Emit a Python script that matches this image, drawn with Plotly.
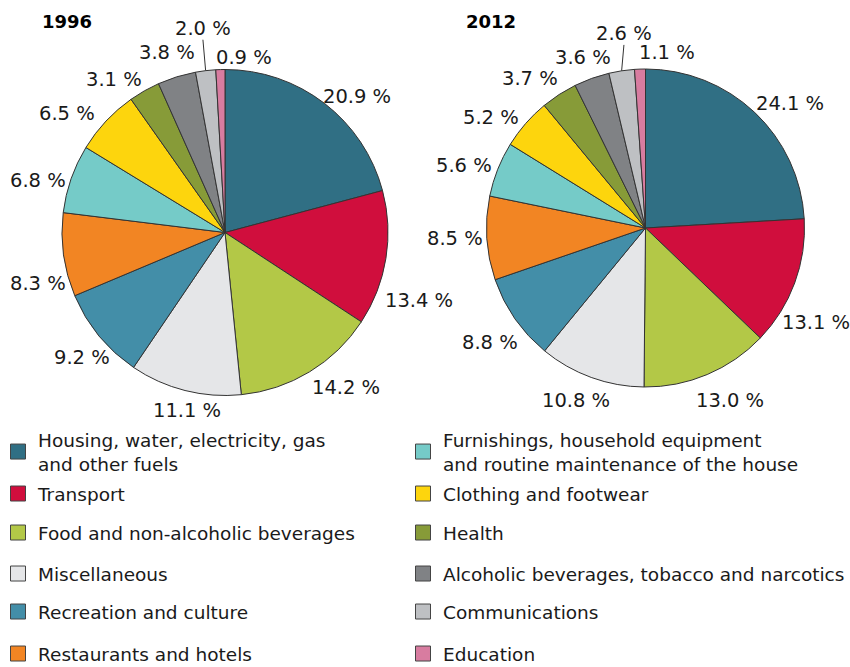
import math
import plotly.graph_objects as go

categories = [
    "Housing, water, electricity, gas<br>and other fuels",
    "Transport",
    "Food and non-alcoholic beverages",
    "Miscellaneous",
    "Recreation and culture",
    "Restaurants and hotels",
    "Furnishings, household equipment<br>and routine maintenance of the house",
    "Clothing and footwear",
    "Health",
    "Alcoholic beverages, tobacco and narcotics",
    "Communications",
    "Education",
]
values_1996 = [20.9, 13.4, 14.2, 11.1, 9.2, 8.3, 6.8, 6.5, 3.1, 3.8, 2.0, 0.9]
values_2012 = [24.1, 13.1, 13.0, 10.8, 8.8, 8.5, 5.6, 5.2, 3.7, 3.6, 2.6, 1.1]
years = ["1996", "2012"]

colors = ["#306F84", "#D00E3D", "#B3C847", "#E5E6E8", "#438EA8", "#F28523",
          "#75CBC8", "#FDD50D", "#879B38", "#808285", "#BEC0C3", "#D87CA0"]

FONT = "DejaVu Sans"
W, H = 850, 667
LABEL_SIZE = 19.5

# pie placement (pixels): centre x, centre y, radius
pies = [dict(cx=225, cy=232.5, r=163), dict(cx=645.5, cy=228, r=159)]
# label nudges (pixels) reproducing the reference's hand-placed labels;
# leader=True draws a connector line to the slice
nudges = [
    {0: (-7, 9, False), 1: (-10, 38, False), 2: (-2, -1, False), 3: (21, 2, False),
     4: (18, 7, False), 5: (11, 25, False), 6: (3, 11, False), 7: (-5, 8, False),
     8: (2, 5, False), 9: (10, -7, False), 10: (5, -24, True), 11: (25, 6, False)},
    {0: (-5, 7, False), 1: (-21, 30, False), 2: (-7, 9, False), 3: (11, 6, False),
     4: (10, 10, False), 5: (5, -1, False), 6: (2, 6, False), 7: (0, 9, False),
     8: (4, 1, False), 9: (13, -3, False), 10: (12, -19, True), 11: (29, 1, False)},
]

def text_width(s, size):
    em = {"%": 0.95, ".": 0.318, " ": 0.318}
    return sum(em.get(ch, 0.636) for ch in s) * size

fig = go.Figure()
annotations = []
shapes = []
for vals, geo, year, nud in zip([values_1996, values_2012], pies, years, nudges):
    cx, cy, r = geo["cx"], geo["cy"], geo["r"]
    dom = dict(x=[(cx - r) / W, (cx + r) / W], y=[1 - (cy + r) / H, 1 - (cy - r) / H])
    fig.add_trace(go.Pie(
        labels=categories, values=vals, sort=False, direction="clockwise",
        rotation=0, domain=dom, showlegend=False,
        marker=dict(colors=colors, line=dict(color="#333333", width=1)),
        textinfo="none", hoverinfo="skip",
    ))
    total = sum(vals)
    cum = 0.0
    for i, v in enumerate(vals):
        mid = (cum + v / 2) / total * 2 * math.pi
        cum += v
        sx, sy = math.sin(mid), -math.cos(mid)
        txt = "%.1f %%" % v
        w, h = text_width(txt, LABEL_SIZE), 18
        pad = 9
        ax, ay = cx + (r + pad) * sx, cy + (r + pad) * sy
        fx = max(-1, min(1, sx * 2))
        fy = max(-1, min(1, sy * 2))
        tx, ty = ax + fx * w / 2, ay + fy * h / 2
        dx, dy, leader = nud.get(i, (0, 0, False))
        tx, ty = tx + dx, ty + dy
        annotations.append(dict(
            text=txt, x=tx / W, y=1 - ty / H, xref="paper", yref="paper",
            xanchor="center", yanchor="middle", showarrow=False,
            font=dict(family=FONT, size=LABEL_SIZE, color="#1a1a1a")))
        if leader:
            ex, ey = cx + r * sx, cy + r * sy
            shapes.append(dict(type="line", xref="paper", yref="paper",
                               x0=ex / W, y0=1 - ey / H, x1=tx / W, y1=1 - (ty + 11) / H,
                               line=dict(color="#333333", width=1)))

# legend: one legend box per entry, laid out in two columns
row_y = [440, 494, 533, 574, 612, 654]      # first text line centre (px)
col_x = [-2, 403]                           # legend box left (px)
layout_legends = {}
for i, name in enumerate(categories):
    col, row = divmod(i, 6)
    lid = "legend" if i == 0 else "legend%d" % (i + 1)
    fig.add_trace(go.Scatter(
        x=[None], y=[None], mode="markers", name=name, legend=lid,
        marker=dict(symbol="square", size=15, color=colors[i],
                    line=dict(color="#444444", width=1)),
    ))
    layout_legends[lid] = dict(
        x=col_x[col] / W, y=1 - (row_y[row] - 19) / H,
        xanchor="left", yanchor="top", orientation="v", itemwidth=30,
        bgcolor="rgba(0,0,0,0)",
        font=dict(family=FONT, size=18.5, color="#1a1a1a"),
    )

for yr, xpix in zip(years, [40, 464]):
    annotations.append(dict(
        text="<b>%s</b>" % yr, x=xpix / W, y=1 - 22 / H, xref="paper", yref="paper",
        xanchor="left", yanchor="middle", showarrow=False,
        font=dict(family=FONT, size=18, color="black")))

fig.update_layout(
    width=W, height=H,
    margin=dict(l=0, r=0, t=0, b=0, pad=0, autoexpand=False),
    paper_bgcolor="white", plot_bgcolor="white",
    xaxis=dict(visible=False), yaxis=dict(visible=False),
    annotations=annotations, shapes=shapes,
    **layout_legends,
)
fig.write_html("out.html", config={"displayModeBar": False},
               post_script="document.body.style.margin='0';document.body.style.padding='0';")
